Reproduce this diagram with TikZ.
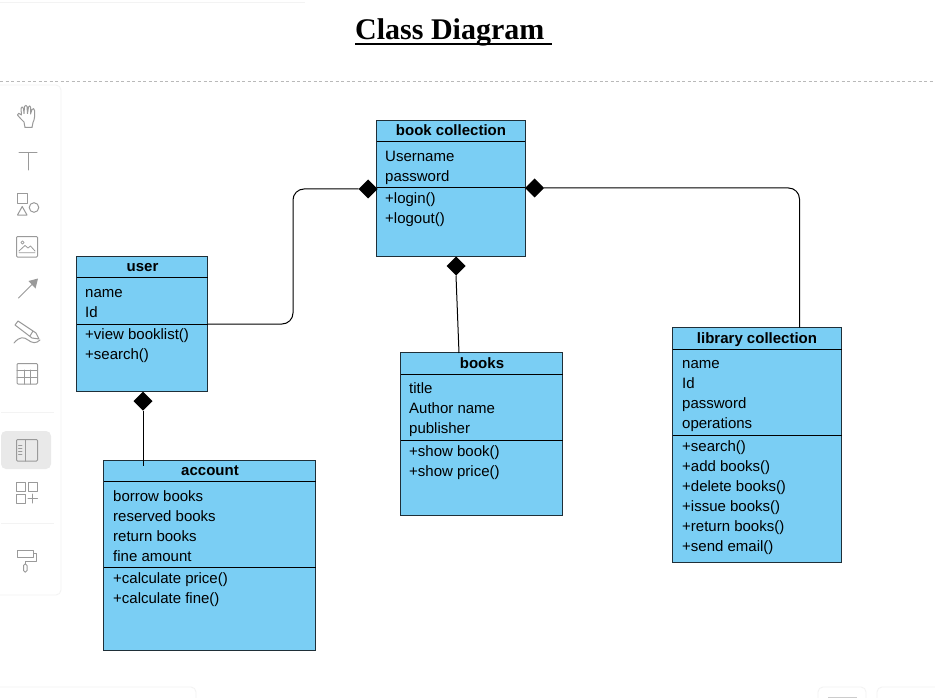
\documentclass[tikz,border=0pt]{standalone}
\usepackage{fontspec}
\setmainfont{Liberation Sans}
\newfontfamily\titlefont{Liberation Serif}
\usetikzlibrary{shapes.geometric}
\definecolor{classfill}{HTML}{7ACEF4}
\definecolor{classline}{HTML}{1F2F38}
\definecolor{icongray}{HTML}{9A9A9A}
\definecolor{panelline}{HTML}{F3F3F3}
\tikzset{
  classbox/.style={draw=classline,line width=1pt,fill=classfill,anchor=north west,inner sep=0pt,outer sep=0pt},
  sepline/.style={draw=black,line width=0.8pt},
  headtext/.style={anchor=base,inner sep=0pt,font=\fontsize{15}{18}\selectfont\bfseries,text=black},
  itemtext/.style={anchor=base west,inner sep=0pt,font=\fontsize{15}{18}\selectfont,text=black},
  comp/.style={diamond,aspect=1,fill=black,draw=none,minimum size=19pt,inner sep=0pt,outer sep=0pt},
  link/.style={draw=black,line width=1pt,rounded corners=11pt},
  icon/.style={draw=icongray,line width=1pt,line join=round,line cap=round},
  panel/.style={draw=panelline,line width=0.9pt,fill=white,rounded corners=5pt},
}
\begin{document}
\begin{tikzpicture}[x=1pt,y=-1pt]
\useasboundingbox (0,0) rectangle (935,698);
\fill[white] (0,0) rectangle (935,698);
% page furniture
\draw[panelline,line width=0.9pt] (0,2) -- (305,2);
\draw[draw=gray!55,line width=0.9pt,dash pattern=on 3pt off 2.5pt] (0,81) -- (935,81);
\node[anchor=base west,inner sep=0pt,font=\fontsize{30}{34}\selectfont\titlefont\bfseries] (title) at (355,39.5) {Class Diagram\ \mbox{}};
\draw[black,line width=1.6pt] ([yshift=-4.5pt]title.base west) -- ([yshift=-4.5pt]title.base east);
% toolbar
\draw[panel] (-8,85) rectangle (61,595);
\draw[panel] (-8,687) rectangle (196,720);
\draw[panel] (818,687) rectangle (866,720);
\draw[panel] (877,687) rectangle (945,720);
\draw[gray!40,line width=1pt] (828,697.5) -- (857,697.5);
% hand
\draw[icon] (24,122) .. controls (21,119) and (19,117) .. (17.5,115) .. controls (17,112.5) and (20,113) .. (21.5,115)
 -- (21,108.5) .. controls (21,106.5) and (23,106.5) .. (23.5,108.5) -- (24,113.5) -- (24.5,106.5) .. controls (25,105) and (27,105) .. (27,106.5) -- (27.5,113.5)
 -- (28.5,107) .. controls (29,105.5) and (30.5,105.5) .. (30.7,107.5) -- (30.5,114) -- (32,109.5) .. controls (33,108) and (34.5,108.5) .. (34.5,110.5)
 .. controls (35,115) and (34.5,120) .. (33,122.5) -- (32,127.5) -- (25,127.5) -- cycle;
% T
\draw[icon] (19,153) -- (37,153) (28,153) -- (28,170);
% shapes
\draw[icon] (17.5,193.5) rectangle (27,203.5);
\draw[icon] (34,207.5) circle (4.8);
\draw[icon] (17.5,215) -- (27,215) -- (22.2,206.5) -- cycle;
% image
\draw[icon,rounded corners=1pt] (16.5,236.5) rectangle (37.5,257);
\draw[icon,line width=0.8pt] (22.5,242.5) circle (1.6);
\draw[icon,line width=0.8pt] (19,251) -- (25,245.5) -- (28,248) -- (30.5,246) -- (35,251) (19,252.8) -- (35,252.8);
% arrow
\draw[icon] (18.5,298) -- (33,283.5);
\fill[icongray] (38,278.5) -- (35.5,288.5) -- (28.5,281) -- cycle;
% pencil
\draw[icon] (15,325) -- (18,321) -- (36,333) -- (39,339) -- (32,338) -- cycle (33,331) -- (30,336);
\draw[icon] (14,343) .. controls (20,336) and (24,337) .. (28,340) .. controls (32,343) and (36,344) .. (40,340);
% table
\draw[icon,rounded corners=1pt] (17,363.5) rectangle (37.5,384);
\draw[icon] (17,370) -- (37.5,370) (17,377) -- (37.5,377) (24,370) -- (24,384) (30.5,370) -- (30.5,384);
% separators and selected tool
\draw[panelline,line width=1pt] (1,412) -- (54,412);
\fill[gray!17,rounded corners=5pt] (1,431) rectangle (51,469);
\draw[icon,rounded corners=1pt] (16.5,439.5) rectangle (37.5,461);
\draw[icon] (25,439.5) -- (25,461);
\draw[icon,line width=0.8pt] (18.5,445) -- (22,445) (18.5,448) -- (22,448) (18.5,451) -- (22,451) (18.5,454) -- (22,454);
\draw[icon] (16.5,482.5) rectangle (25.5,491.5) (28.5,482.5) rectangle (37.5,491.5) (16.5,494) rectangle (25.5,503);
\draw[icon] (28,498.5) -- (37.5,498.5) (32.7,494) -- (32.7,503);
\draw[panelline,line width=1pt] (1,523) -- (54,523);
% roller
\draw[icon] (17.5,550.5) rectangle (33.5,557.5);
\draw[icon] (33.5,553.5) -- (36.5,553.5) -- (36.5,561) -- (25,561) -- (25,564);
\draw[icon,rounded corners=1.5pt] (23.5,564) rectangle (27,572);

% class boxes
\node[classbox,minimum width=148.5pt,minimum height=136pt] (bookcoll) at (376.6,120.6) {};
\node[classbox,minimum width=131pt,minimum height=135pt] (user) at (76.6,256.6) {};
\node[classbox,minimum width=162pt,minimum height=163pt] (books) at (400.6,352.6) {};
\node[classbox,minimum width=169pt,minimum height=235pt] (library) at (672.6,327.6) {};
\node[classbox,minimum width=212pt,minimum height=190pt] (account) at (103.8,460.6) {};
% separators
\draw[sepline] (bookcoll.west |- 0,141) -- (bookcoll.east |- 0,141) (bookcoll.west |- 0,187) -- (bookcoll.east |- 0,187);
\draw[sepline] (user.west |- 0,277) -- (user.east |- 0,277) (user.west |- 0,324) -- (user.east |- 0,324);
\draw[sepline] (books.west |- 0,374) -- (books.east |- 0,374) (books.west |- 0,440) -- (books.east |- 0,440);
\draw[sepline] (library.west |- 0,349) -- (library.east |- 0,349) (library.west |- 0,435) -- (library.east |- 0,435);
\draw[sepline] (account.west |- 0,481) -- (account.east |- 0,481) (account.west |- 0,567) -- (account.east |- 0,567);
% diamonds
\node[comp] (dleft) at (368,189) {};
\node[comp] (dright) at (534.5,188) {};
\node[comp] (dbottom) at (456,266) {};
\node[comp] (duser) at (143,401) {};
% connectors
\coordinate (userport) at (208,324);
\coordinate (booksport) at (459,353);
\coordinate (accountport) at (143,466);
\draw[link] (userport) -- (293,324) -- (293,189) -- (dleft.west);
\draw[link] (dright.east) -- (799.5,188) -- (library.north -| 799.5,0);
\draw[link] (dbottom.south) -- (booksport);
\draw[link] (duser.south) -- (accountport);
% book collection
\node[headtext] (t1) at (451,135.5) {book collection};
\node[itemtext] (t2) at (385,161.5) {Username};
\node[itemtext] (t3) at (385,181.5) {password};
\node[itemtext] (t4) at (385,203.5) {+login()};
\node[itemtext] (t5) at (385,223) {+logout()};
% user
\node[headtext] (u1) at (142.5,271) {user};
\node[itemtext] (u2) at (85,297) {name};
\node[itemtext] (u3) at (85,317) {Id};
\node[itemtext] (u4) at (85,339) {+view booklist()};
\node[itemtext] (u5) at (85,359) {+search()};
% books
\node[headtext] (b1) at (482,368) {books};
\node[itemtext] (b2) at (409,393) {title};
\node[itemtext] (b3) at (409,413) {Author name};
\node[itemtext] (b4) at (409,433) {publisher};
\node[itemtext] (b5) at (409,456) {+show book()};
\node[itemtext] (b6) at (409,476) {+show price()};
% library collection
\node[headtext] (l1) at (757,343) {library collection};
\node[itemtext] (l2) at (682,368) {name};
\node[itemtext] (l3) at (682,388) {Id};
\node[itemtext] (l4) at (682,408) {password};
\node[itemtext] (l5) at (682,428) {operations};
\node[itemtext] (l6) at (682,451) {+search()};
\node[itemtext] (l7) at (682,471) {+add books()};
\node[itemtext] (l8) at (682,491) {+delete books()};
\node[itemtext] (l9) at (682,511) {+issue books()};
\node[itemtext] (l10) at (682,531) {+return books()};
\node[itemtext] (l11) at (682,551) {+send email()};
% account
\node[headtext] (a1) at (210,475) {account};
\node[itemtext] (a2) at (113,501) {borrow books};
\node[itemtext] (a3) at (113,521) {reserved books};
\node[itemtext] (a4) at (113,541) {return books};
\node[itemtext] (a5) at (113,561) {fine amount};
\node[itemtext] (a6) at (113,583) {+calculate price()};
\node[itemtext] (a7) at (113,603) {+calculate fine()};
\end{tikzpicture}
\end{document}
